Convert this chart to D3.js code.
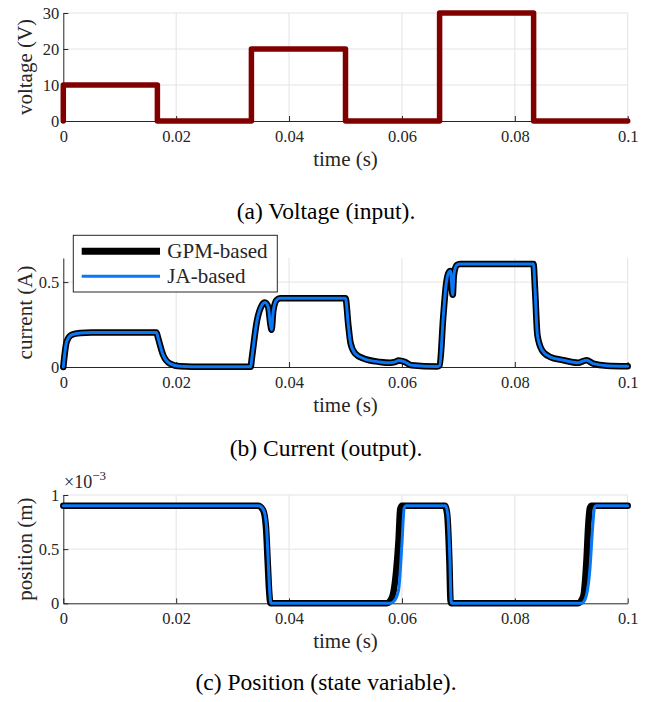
<!DOCTYPE html>
<html>
<head>
<meta charset="utf-8">
<script src="https://cdn.jsdelivr.net/npm/d3@7"></script>
<style>
  body { margin: 0; background: #fff; }
  text { font-family: 'Liberation Serif', 'Times New Roman', serif; }
</style>
</head>
<body>
<script>
// data
var xTicks = [0, 0.02, 0.04, 0.06, 0.08, 0.1];
var xTickLabels = ['0', '0.02', '0.04', '0.06', '0.08', '0.1'];

// (a) voltage input, square pulses
var voltT = [0, 0, 0.01667, 0.01667, 0.03333, 0.03333, 0.05, 0.05, 0.06667, 0.06667, 0.08333, 0.08333, 0.1];
var voltV = [0, 10, 10, 0, 0, 20, 20, 0, 0, 30, 30, 0, 0];
var voltTicks = [0, 10, 20, 30];
var voltTickLabels = ['0', '10', '20', '30'];

// (b) current output
var curT = [0, 0.0006, 0.0015, 0.003, 0.005, 0.0165, 0.0168, 0.0177, 0.0189, 0.0207, 0.025, 0.0332,
            0.0334, 0.0343, 0.0352, 0.0357, 0.0363, 0.0367, 0.0369, 0.0372, 0.0378, 0.0384, 0.05,
            0.0505, 0.0509, 0.0517, 0.0532, 0.0561, 0.0579, 0.0588, 0.0594, 0.0605, 0.0617, 0.0662,
            0.0667, 0.0673, 0.0678, 0.0682, 0.0686, 0.069, 0.0692, 0.0697, 0.0703, 0.0833,
            0.0836, 0.084, 0.0848, 0.0862, 0.0886, 0.0912, 0.0927, 0.0939, 0.0963, 0.1];
var curGPM = [0, 0.15, 0.19, 0.2, 0.203, 0.203, 0.17, 0.07, 0.02, 0.004, 0.001, 0.001,
              0.05, 0.27, 0.365, 0.38, 0.355, 0.25, 0.22, 0.33, 0.395, 0.405, 0.405,
              0.247, 0.14, 0.08, 0.05, 0.03, 0.025, 0.03, 0.038, 0.03, 0.01, 0.003,
              0.01, 0.287, 0.48, 0.55, 0.565, 0.425, 0.54, 0.6, 0.607, 0.607,
              0.444, 0.188, 0.1, 0.06, 0.04, 0.025, 0.04, 0.02, 0.008, 0.005];
var curJA  = [0, 0.15, 0.19, 0.2, 0.203, 0.203, 0.17, 0.07, 0.02, 0.004, 0.001, 0.001,
              0.05, 0.27, 0.365, 0.38, 0.355, 0.25, 0.22, 0.33, 0.395, 0.405, 0.405,
              0.247, 0.14, 0.08, 0.05, 0.03, 0.025, 0.03, 0.038, 0.03, 0.01, 0.003,
              0.01, 0.287, 0.48, 0.55, 0.565, 0.425, 0.54, 0.6, 0.607, 0.607,
              0.444, 0.188, 0.1, 0.06, 0.04, 0.025, 0.04, 0.02, 0.008, 0.005];
var curTicks = [0, 0.5];
var curTickLabels = ['0', '0.5'];

// (c) position, in units of 1e-3 m
var posT_GPM = [0, 0.0345, 0.0354, 0.0359, 0.0362, 0.0365, 0.0367, 0.0573, 0.0582, 0.059, 0.0594, 0.0597, 0.06,
                0.0676, 0.068, 0.0684, 0.0686, 0.0687, 0.0912, 0.0921, 0.0927, 0.093, 0.0933, 0.0936, 0.1];
var posGPM   = [0.9, 0.9, 0.86, 0.71, 0.4, 0.09, 0, 0, 0.05, 0.31, 0.58, 0.87, 0.9,
                0.9, 0.83, 0.4, 0.03, 0, 0, 0.06, 0.4, 0.71, 0.88, 0.9, 0.9];
var posT_JA  = [0, 0.0346, 0.0355, 0.036, 0.0363, 0.0366, 0.0368, 0.0578, 0.0585, 0.0594, 0.06, 0.0604, 0.0607,
                0.0677, 0.0681, 0.0685, 0.0687, 0.0688, 0.0918, 0.0924, 0.0933, 0.0938, 0.0941, 0.0944, 0.1];
var posJA    = [0.9, 0.9, 0.86, 0.71, 0.4, 0.09, 0, 0, 0.015, 0.12, 0.55, 0.88, 0.9,
                0.9, 0.83, 0.4, 0.03, 0, 0, 0.03, 0.31, 0.71, 0.88, 0.9, 0.9];
var posTicks = [0, 0.5, 1];
var posTickLabels = ['0', '0.5', '1'];

var legendLabels = ['GPM-based', 'JA-based'];

// chart
var W = 660, H = 702;
var left = 63.3, right = 627.7;
var axisCol = '#262626', gridCol = '#e3e3e3';
var gpmCol = '#000000', jaCol = '#0a78f5', voltCol = '#800000';

var svg = d3.select('body').append('svg')
	.attr('width', W)
	.attr('height', H);

var x = d3.scaleLinear().domain([0, 0.1]).range([left, right]);

function zip (ts, vs) {
	return ts.map(function (t, i) { return [t, vs[i]]; });
}

function panel (opt) {
	var y = d3.scaleLinear().domain(opt.domain).range([opt.bottom, opt.top]);
	var g = svg.append('g');

	// grid
	g.append('g')
		.selectAll('line.vg')
		.data(xTicks.slice(1)).enter()
		.append('line')
		.attr('x1', function (d) { return x(d); })
		.attr('x2', function (d) { return x(d); })
		.attr('y1', opt.top)
		.attr('y2', opt.bottom)
		.attr('stroke', gridCol);
	g.append('g')
		.selectAll('line.hg')
		.data(opt.yTicks.slice(1)).enter()
		.append('line')
		.attr('x1', left)
		.attr('x2', right)
		.attr('y1', function (d) { return y(d); })
		.attr('y2', function (d) { return y(d); })
		.attr('stroke', gridCol);

	// axes
	var xAxis = d3.axisBottom(x)
		.tickValues(xTicks)
		.tickFormat(function (d, i) { return xTickLabels[i]; })
		.tickSizeInner(-5)
		.tickSizeOuter(0)
		.tickPadding(9);
	var yAxis = d3.axisLeft(y)
		.tickValues(opt.yTicks)
		.tickFormat(function (d, i) { return opt.yLabels[i]; })
		.tickSizeInner(-5)
		.tickSizeOuter(0)
		.tickPadding(4);

	var gx = g.append('g')
		.attr('transform', 'translate(0,' + opt.bottom + ')')
		.call(xAxis);
	var gy = g.append('g')
		.attr('transform', 'translate(' + left + ',0)')
		.call(yAxis);
	[gx, gy].forEach(function (a) {
		a.select('.domain').attr('stroke', axisCol);
		a.selectAll('.tick line').attr('stroke', axisCol);
		a.selectAll('.tick text')
			.attr('fill', axisCol)
			.style('font-family', "'Liberation Serif', serif")
			.style('font-size', '16.5px');
	});

	// series
	opt.series.forEach(function (s) {
		var line = d3.line()
			.x(function (d) { return x(d[0]); })
			.y(function (d) { return y(d[1]); })
			.curve(s.curve || d3.curveLinear);
		g.append('path')
			.datum(s.data)
			.attr('d', line)
			.attr('fill', 'none')
			.attr('stroke', s.color)
			.attr('stroke-width', s.width)
			.attr('stroke-linejoin', 'round')
			.attr('stroke-linecap', 'round');
	});

	// labels
	g.append('text')
		.attr('x', (left + right) / 2)
		.attr('y', opt.bottom + 45)
		.attr('text-anchor', 'middle')
		.attr('fill', axisCol)
		.style('font-size', '21px')
		.text('time (s)');
	g.append('text')
		.attr('transform', 'translate(32,' + (opt.top + opt.bottom) / 2 + ') rotate(-90)')
		.attr('text-anchor', 'middle')
		.attr('fill', axisCol)
		.style('font-size', '21px')
		.text(opt.yTitle);
	svg.append('text')
		.attr('x', 326)
		.attr('y', opt.captionY)
		.attr('text-anchor', 'middle')
		.attr('fill', '#000')
		.style('font-size', '23.5px')
		.text(opt.caption);
	return g;
}

panel({
	top: 13, bottom: 121, domain: [0, 30],
	yTicks: voltTicks, yLabels: voltTickLabels,
	yTitle: 'voltage (V)', caption: '(a) Voltage (input).', captionY: 219,
	series: [{ data: zip(voltT, voltV), color: voltCol, width: 5.5 }]
});

var gb = panel({
	top: 258, bottom: 367, domain: [0, 0.642],
	yTicks: curTicks, yLabels: curTickLabels,
	yTitle: 'current (A)', caption: '(b) Current (output).', captionY: 456,
	series: [
		{ data: zip(curT, curGPM), color: gpmCol, width: 6.5, curve: d3.curveMonotoneX },
		{ data: zip(curT, curJA), color: jaCol, width: 3, curve: d3.curveMonotoneX }
	]
});

var gc = panel({
	top: 495, bottom: 603.3, domain: [0, 1],
	yTicks: posTicks, yLabels: posTickLabels,
	yTitle: 'position (m)', caption: '(c) Position (state variable).', captionY: 690,
	series: [
		{ data: zip(posT_GPM, posGPM), color: gpmCol, width: 6.5, curve: d3.curveMonotoneX },
		{ data: zip(posT_JA, posJA), color: jaCol, width: 3, curve: d3.curveMonotoneX }
	]
});

// x10^-3 multiplier
var mult = gc.append('text')
	.attr('x', 64)
	.attr('y', 488)
	.attr('fill', axisCol)
	.style('font-size', '18px');
mult.append('tspan').text('\u00d710');
mult.append('tspan')
	.attr('dy', -8)
	.style('font-size', '13px')
	.text('\u22123');

// legend
var leg = gb.append('g');
leg.append('rect')
	.attr('x', 73.3)
	.attr('y', 235.3)
	.attr('width', 204)
	.attr('height', 56.7)
	.attr('fill', '#fff')
	.attr('stroke', axisCol)
	.attr('stroke-width', 1);
var legItems = [
	{ label: legendLabels[0], color: gpmCol, width: 7, y: 251.3 },
	{ label: legendLabels[1], color: jaCol, width: 3, y: 276.3 }
];
legItems.forEach(function (d) {
	leg.append('line')
		.attr('x1', 81.7)
		.attr('x2', 160)
		.attr('y1', d.y)
		.attr('y2', d.y)
		.attr('stroke', d.color)
		.attr('stroke-width', d.width);
	leg.append('text')
		.attr('x', 167.3)
		.attr('y', d.y + 6.5)
		.attr('fill', axisCol)
		.style('font-size', '21px')
		.text(d.label);
});
</script>
</body>
</html>
